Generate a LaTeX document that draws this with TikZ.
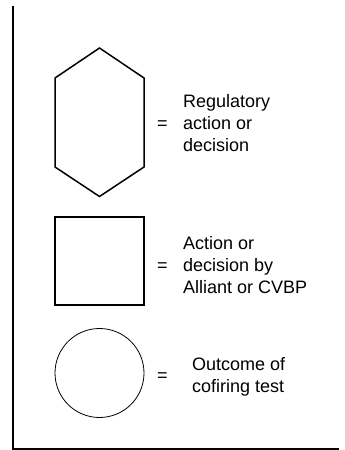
\documentclass[tikz,border=0pt]{standalone}
\usepackage{fontspec}
\setmainfont{Liberation Sans}
\begin{document}
\begin{tikzpicture}[x=1pt,y=-1pt,
  frame/.style={line width=2pt},
  shapeline/.style={line width=1.5pt},
  label/.style={anchor=base west,align=left,inner sep=0pt,
    font=\fontsize{18}{22.2}\selectfont},
  eq/.style={inner sep=0pt,font=\fontsize{18}{22.2}\selectfont}]
\useasboundingbox (0,0) rectangle (345,450);
% frame
\coordinate (ftop) at (12.5,5.5);
\coordinate (fcorner) at (12.5,448.5);
\coordinate (fend) at (339,448.5);
\draw[frame] (ftop) -- (fcorner) -- (fend);
% hexagon
\draw[shapeline,line join=miter] (99.5,48) -- (144,78) -- (144,167) -- (99.5,196.5) -- (55,167) -- (55,78) -- cycle;
\node[eq] (eq1) at (162.5,124.7) {=};
\node[label] (t1) at (183,151.7) {Regulatory\\action or\\decision};
% square
\node[draw,shapeline,minimum width=89pt,minimum height=88pt,inner sep=0pt] (sq) at (99.5,261) {};
\node[eq] (eq2) at (162.5,267) {=};
\node[label] (t2) at (183,293.7) {Action or\\decision by\\Alliant or CVBP};
% circle
\node[draw,circle,line width=0.8pt,minimum size=89pt,inner sep=0pt] (ci) at (99.5,373) {};
\node[eq] (eq3) at (162.5,377) {=};
\node[label] (t3) at (192,392.3) {Outcome of\\cofiring test};
\end{tikzpicture}
\end{document}
